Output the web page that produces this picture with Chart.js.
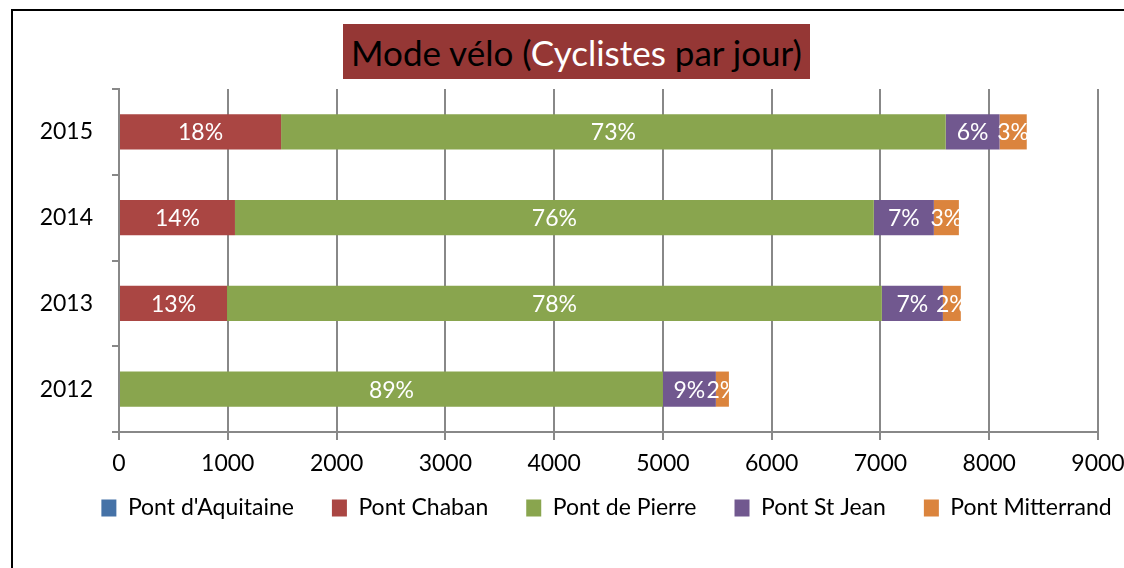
<!DOCTYPE html>
<html lang="fr">
<head>
<meta charset="UTF-8">
<title>Mode vélo (Cyclistes par jour)</title>
<script src="https://cdn.jsdelivr.net/npm/chart.js"></script>
<style>
    body { margin: 0; background: #fff; overflow: hidden; font-family: Lato, sans-serif; }
    .frame { position: absolute; left: 11px; top: 9px; width: 1300px; height: 800px; border: 2px solid #000; }
    .wrap { position: absolute; left: 0; top: 0; width: 1124px; height: 568px; }
    .title {
        position: absolute; left: 343px; top: 24px; width: 467px; height: 55px;
        background: #953735; color: #000; font-size: 35px; line-height: 56px;
        text-align: center; white-space: nowrap;
    }
    .title span { color: #fff; }
</style>
</head>
<body>
<div class="frame"></div>
<div class="wrap"><canvas id="chart"></canvas></div>
<div class="title">Mode vélo (<span>Cyclistes</span> par jour)</div>

<script>
    // data (cyclists per day)
    const years = ['2015', '2014', '2013', '2012'];
    const bridges = ["Pont d'Aquitaine", 'Pont Chaban', 'Pont de Pierre', 'Pont St Jean', 'Pont Mitterrand'];
    const aquitaine = [0, 0, 0, 0];
    const chaban = [1490, 1066, 993, 0];
    const pierre = [6110, 5873, 6020, 5000];
    const stJean = [495, 552, 561, 487];
    const mitterrand = [250, 230, 165, 120];
    const xMax = 9000;
    const xStep = 1000;

    const colors = ['#4572A7', '#AA4643', '#89A54E', '#71588F', '#DB843D'];
    const series = [aquitaine, chaban, pierre, stJean, mitterrand];

    Chart.defaults.font.family = 'Lato, sans-serif';
    Chart.defaults.color = '#000';

    // white percentage of the year's total, centred in each segment
    const pctLabels = {
        id: 'pctLabels',
        afterDatasetsDraw(chart) {
            const ctx = chart.ctx;
            const sets = chart.data.datasets;
            ctx.save();
            ctx.font = '23px Lato, sans-serif';
            ctx.fillStyle = '#fff';
            ctx.textAlign = 'center';
            ctx.textBaseline = 'middle';
            sets.forEach((ds, i) => {
                chart.getDatasetMeta(i).data.forEach((bar, j) => {
                    const v = ds.data[j];
                    if (!v) return;
                    const total = sets.reduce((s, d) => s + d.data[j], 0);
                    const p = bar.getProps(['x', 'base', 'y'], true);
                    ctx.fillText(Math.round(v / total * 100) + '%', (p.x + p.base) / 2, p.y + 1);
                });
            });
            ctx.restore();
        }
    };

    // x axis is kept short so the legend sits close; let its labels draw below it,
    // and push the legend row a bit to the right like the original
    const tweakLayout = {
        id: 'tweakLayout',
        afterLayout(chart) {
            chart.scales.x.bottom += 30;
            chart.legend.left += 38;
            chart.legend.right += 38;
        }
    };

    new Chart(document.getElementById('chart'), {
        type: 'bar',
        data: {
            labels: years,
            datasets: bridges.map((name, i) => ({
                label: name,
                data: series[i],
                backgroundColor: colors[i],
                borderWidth: 0,
                barPercentage: 0.41,
                categoryPercentage: 1
            }))
        },
        options: {
            indexAxis: 'y',
            responsive: true,
            maintainAspectRatio: false,
            animation: false,
            layout: { padding: { left: 13, top: 89, right: 0, bottom: 38.5 } },
            scales: {
                x: {
                    stacked: true,
                    min: 0,
                    max: xMax,
                    ticks: { stepSize: xStep, padding: 10, font: { size: 23 }, callback: v => String(v) },
                    grid: { color: '#888', lineWidth: 2, tickLength: 8 },
                    border: { color: '#888', width: 2 },
                    afterFit(scale) {
                        scale.height = 26.5;
                        scale.paddingRight = 26;
                    }
                },
                y: {
                    stacked: true,
                    ticks: { padding: 19, font: { size: 23 } },
                    grid: { offset: true, drawOnChartArea: false, color: '#888', lineWidth: 2, tickLength: 7 },
                    border: { color: '#888', width: 2 },
                    afterFit(scale) { scale.width = 106; }
                }
            },
            plugins: {
                legend: {
                    position: 'bottom',
                    labels: { boxWidth: 15, boxHeight: 17, padding: 38, font: { size: 23 } }
                },
                tooltip: { enabled: false }
            }
        },
        plugins: [pctLabels, tweakLayout]
    });
</script>
</body>
</html>
